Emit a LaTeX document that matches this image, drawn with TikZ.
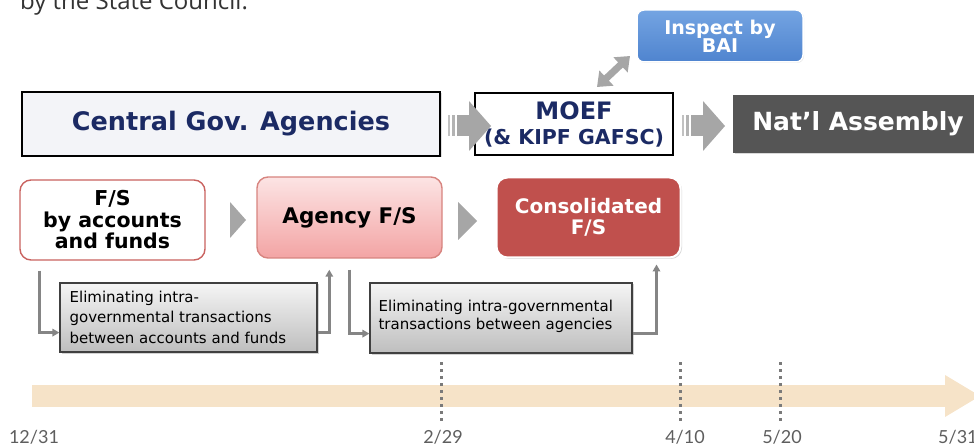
\documentclass[tikz,border=0pt]{standalone}
\usepackage{fontspec}
\setmainfont{DejaVu Sans}
\newfontfamily\labfont{Lato}
\newfontfamily\titfont{Open Sans}
\usetikzlibrary{arrows.meta,shadows,calc}
\definecolor{navy}{HTML}{1B2A64}
\definecolor{arrgray}{HTML}{A6A6A6}
\definecolor{conngray}{HTML}{858585}
\definecolor{cgafill}{HTML}{F3F4F8}
\definecolor{natfill}{HTML}{555555}
\definecolor{baitop}{HTML}{74A4E2}
\definecolor{baibot}{HTML}{4F84CF}
\definecolor{fsborder}{HTML}{C9625F}
\definecolor{pinktop}{HTML}{FCE4E4}
\definecolor{pinkbot}{HTML}{F3A4A4}
\definecolor{pinkborder}{HTML}{D7847F}
\definecolor{consfill}{HTML}{C0504D}
\definecolor{elimtop}{HTML}{F5F5F5}
\definecolor{elimbot}{HTML}{BEBEBE}
\definecolor{bandcol}{HTML}{F6E3C8}
\definecolor{tickcol}{HTML}{7A7A7A}
\definecolor{labcol}{HTML}{5E5E5E}
\definecolor{titcol}{HTML}{333333}
\tikzset{
  topbox/.style={draw=black, line width=1.6pt, inner sep=0pt, align=center},
  fsbox/.style={rounded corners=11pt, inner sep=0pt, align=center, line width=1.4pt},
  elimbox/.style={draw=black!75, line width=1.2pt, top color=elimtop, bottom color=elimbot, inner sep=0pt,
    drop shadow={shadow xshift=1.5pt, shadow yshift=-1.5pt, opacity=.35}},
  elimtext/.style={anchor=west, align=left, inner sep=0pt},
  conn/.style={draw=conngray, line width=2.6pt, -{Triangle[length=7pt,width=7.5pt]}},
  chev/.style={fill=arrgray, draw=none},
  tickline/.style={draw=tickcol, line width=3pt, dash pattern=on 3pt off 4pt},
  datelab/.style={font=\labfont\fontsize{18}{20}\selectfont, text=labcol, inner sep=0pt},
  blockarr/.pic={
    \fill[arrgray!70] (0,-10.5) rectangle (2,10.5);
    \fill[arrgray!85] (4,-10.5) rectangle (7,10.5);
    \fill[arrgray] (9,-10.5) rectangle (21.5,10.5);
    \fill[arrgray] (21,-25) -- (43,0) -- (21,25) -- cycle;
  }
}
\begin{document}
\begin{tikzpicture}[x=1pt,y=-1pt]
\useasboundingbox (0,0) rectangle (974,446);

% title fragment
\node[anchor=base west, inner sep=0pt, text=titcol, font=\titfont\fontsize{24}{28}\selectfont] (title) at (20,10) {by the State Council.};

% top row
\node[topbox, fill=cgafill, minimum width=418pt, minimum height=64pt, text=navy,
      font=\bfseries\fontsize{25.5}{30}\selectfont,
      drop shadow={shadow xshift=1.5pt, shadow yshift=-1.5pt, opacity=.25}] (cga) at (231,124) {Central Gov. Agencies};
\node[topbox, fill=white, minimum width=198pt, minimum height=62pt, text=navy,
      font=\bfseries\fontsize{24}{26}\selectfont] (moef) at (574,124)
      {MOEF\\[-1pt]{\fontsize{20.5}{22}\selectfont(\& KIPF GAFSC)}};
\node[fill=natfill, minimum width=250pt, minimum height=58pt, inner sep=0pt, text=white,
      font=\bfseries\fontsize{25}{28}\selectfont,
      drop shadow={shadow xshift=1.5pt, shadow yshift=-1.5pt, opacity=.3}] (nat) at (858,124) {Nat’l Assembly};
\node[rounded corners=7pt, top color=baitop, bottom color=baibot, draw=white, line width=1.5pt,
      minimum width=166pt, minimum height=52pt, inner sep=0pt, text=white, align=center,
      font=\bfseries\fontsize{19}{18}\selectfont,
      drop shadow={shadow xshift=1pt, shadow yshift=-1pt, opacity=.2}] (bai) at (720,36) {Inspect by\\BAI};

% block arrows
\pic at (448,126) {blockarr};
\pic at (682,126) {blockarr};

% double arrow MOEF <-> BAI
\coordinate (da1) at (597,87);
\coordinate (da2) at (630,56);
\draw[draw=arrgray, line width=7pt, {Triangle[length=13pt,width=20pt]}-{Triangle[length=13pt,width=20pt]}] (da1) -- (da2);

% lower row
\node[fsbox, draw=fsborder, fill=white, minimum width=185pt, minimum height=80pt,
      font=\bfseries\fontsize{20.5}{21.5}\selectfont] (fs) at (112.5,220) {F/S\\by accounts\\and funds};
\node[fsbox, draw=pinkborder, top color=pinktop, bottom color=pinkbot, minimum width=185pt, minimum height=81pt,
      font=\bfseries\fontsize{21.5}{24}\selectfont] (agency) at (349.5,217.5) {Agency F/S};
\node[fsbox, draw=white, line width=2pt, fill=consfill, minimum width=184pt, minimum height=80pt, text=white,
      font=\bfseries\fontsize{20}{21}\selectfont,
      drop shadow={shadow xshift=1.5pt, shadow yshift=-1.5pt, opacity=.3}] (cons) at (588.5,217.5) {Consolidated\\F/S};

\fill[chev] (230,202) -- (246,220) -- (230,238) -- cycle;
\fill[chev] (458,202) -- (477,221) -- (458,240) -- cycle;

% elimination boxes
\node[elimbox, minimum width=257pt, minimum height=69pt] (elim1) at (188.5,317.5) {};
\node[elimtext, font=\fontsize{15}{20.5}\selectfont] (elim1t) at ($(elim1.west)+(10,-0.5)$) {Eliminating intra-\\governmental transactions\\between accounts and funds};
\node[elimbox, minimum width=262pt, minimum height=70pt] (elim2) at (501,318) {};
\node[elimtext, font=\fontsize{15}{18}\selectfont] (elim2t) at ($(elim2.west)+(9,-2)$) {Eliminating intra-governmental\\transactions between agencies};

% connectors
\draw[conn, shorten <=10pt] ([xshift=20pt]fs.south west) |- ([yshift=20pt]elim1.south west);
\draw[conn, shorten >=11pt] ([yshift=20pt]elim1.south east) -| ([xshift=73pt]agency.south west);
\draw[conn, shorten <=11pt] ([xshift=93pt]agency.south west) |- ([yshift=20pt]elim2.south west);
\draw[conn, shorten >=6pt] ([yshift=20pt]elim2.south east) -| ([xshift=161pt]cons.south west);

% timeline
\fill[bandcol] (32,385) rectangle (946,407);
\fill[bandcol] (945,375) -- (980,396) -- (945,417) -- cycle;
\coordinate (t1a) at (441,362); \coordinate (t1b) at (441,422);
\coordinate (t2a) at (680,362); \coordinate (t2b) at (680,422);
\coordinate (t3a) at (780,362); \coordinate (t3b) at (780,422);
\draw[tickline] (t1a) -- (t1b);
\draw[tickline] (t2a) -- (t2b);
\draw[tickline] (t3a) -- (t3b);
\node[datelab] (d1) at (34,437) {12/31};
\node[datelab] (d2) at (443,437) {2/29};
\node[datelab] (d3) at (685,437) {4/10};
\node[datelab] (d4) at (782,437) {5/20};
\node[datelab, anchor=west] (d5) at (938,437) {5/31};
\end{tikzpicture}
\end{document}
